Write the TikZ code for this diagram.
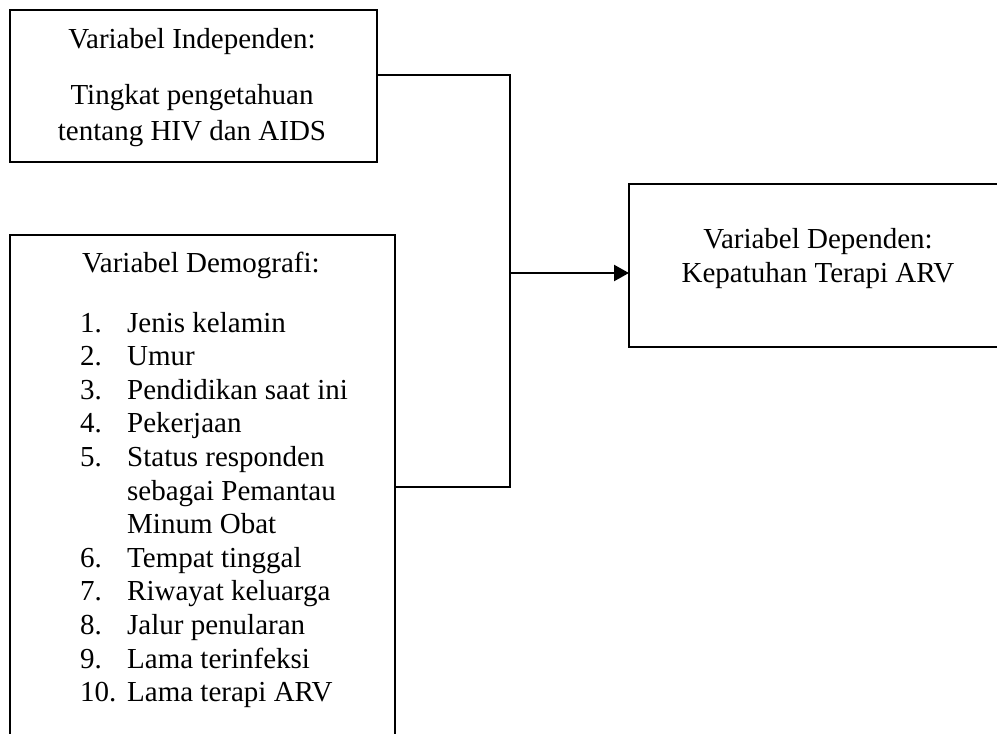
\documentclass[tikz,border=0pt]{standalone}
\usepackage{fontspec}
\setmainfont{Liberation Serif}
\usetikzlibrary{arrows.meta}
\begin{document}
\begin{tikzpicture}[x=1pt,y=-1pt,
  box/.style={draw, line width=2.3pt, inner sep=0pt, outer sep=0pt},
  conn/.style={line width=2.3pt},
  arr/.style={line width=2.3pt, -{Triangle[length=15pt,width=16pt]}},
  txt/.style={inner sep=0pt, font=\fontsize{29}{33.6}\selectfont},
  ]
\useasboundingbox (0,0) rectangle (997,734);
\clip (0,0) rectangle (997,734);
% boxes
\node[box, minimum width=367pt, minimum height=152pt] (b1) at (193.5,86) {};
\node[box, minimum width=385pt, minimum height=510pt] (b2) at (202.5,490) {};
\node[box, minimum width=379pt, minimum height=163pt] (b3) at (818.5,265.5) {};
% box 1 text
\node[txt, anchor=base] (t1a) at (192,48) {Variabel Independen:};
\node[txt, anchor=base] (t1b) at (192,104) {Tingkat pengetahuan};
\node[txt, anchor=base] (t1c) at (192,140) {tentang HIV dan AIDS};
% box 3 text
\node[txt, anchor=base] (t3a) at (818,248) {Variabel Dependen:};
\node[txt, anchor=base] (t3b) at (818,282) {Kepatuhan Terapi ARV};
% box 2 text
\node[txt, anchor=base west] (t2h) at (82,272) {Variabel Demografi:};
\foreach \n/\lab/\k in {1./Jenis kelamin/0, 2./Umur/1, 3./Pendidikan saat ini/2, 4./Pekerjaan/3, 5./Status responden/4, /sebagai Pemantau/5, /Minum Obat/6, 6./Tempat tinggal/7, 7./Riwayat keluarga/8, 8./Jalur penularan/9, 9./Lama terinfeksi/10, 10./Lama terapi ARV/11}{
  \node[txt, anchor=base west] (n\k) at (80,332+33.6*\k) {\n};
  \node[txt, anchor=base west] (l\k) at (127,332+33.6*\k) {\lab};
}
% connectors
\coordinate (j) at (510,273);
\draw[conn] ([yshift=11pt]b1.east) -| (j);
\draw[conn] ([yshift=3pt]b2.east) -| (j);
\draw[arr] (j) -- (j -| b3.west);
\end{tikzpicture}
\end{document}
